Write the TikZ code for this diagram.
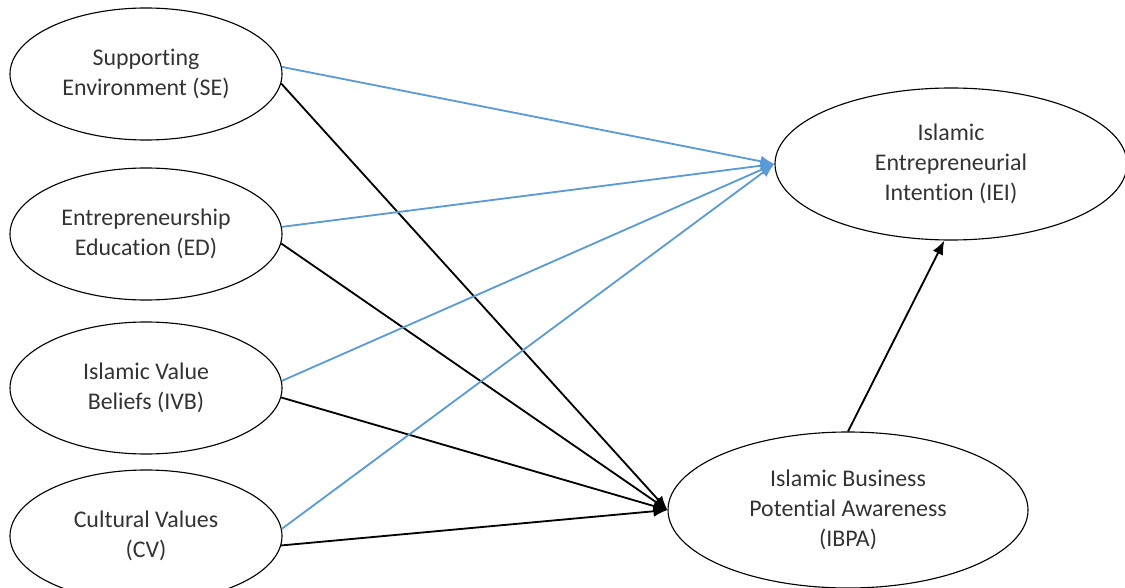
\documentclass[tikz,border=0pt]{standalone}
\usepackage{fontspec}
\setmainfont{Carlito}[Ligatures=NoCommon]
\usetikzlibrary{arrows.meta,shapes.geometric}
\definecolor{linkblue}{RGB}{91,155,213}

\begin{document}
\begin{tikzpicture}[
		construct/.style={draw,ellipse,thick,align=center,text=black!80,
			font=\fontsize{17}{21.5}\selectfont},
		leftvar/.style={construct,minimum width=6.8cm,minimum height=3.3cm},
		toiei/.style={linkblue,line width=1.3pt,-{Latex[length=10pt,width=8pt]}},
		toibpa/.style={black,line width=1.3pt,-{Latex[length=10pt,width=8pt]}}]
		\useasboundingbox (0,0) rectangle (28.125,-14.7);

		\node[leftvar] (se) at (3.65,-1.85) {Supporting\\Environment (SE)};
		\node[leftvar] (ed) at (3.65,-5.85) {Entrepreneurship\\Education (ED)};
		\node[leftvar] (ivb) at (3.65,-9.7) {Islamic Value\\Beliefs (IVB)};
		\node[leftvar] (cv) at (3.65,-13.4) {Cultural Values\\(CV)};
		\node[construct,minimum width=8.8cm,minimum height=3.8cm] (iei) at (23.775,-4.1) {Islamic\\Entrepreneurial\\Intention (IEI)};
		\node[construct,minimum width=9.0cm,minimum height=3.9cm] (ibpa) at (21.2,-12.75) {Islamic Business\\Potential Awareness\\(IBPA)};

		\draw[toibpa] (se.-4) -- (ibpa.west);
		\draw[toibpa] (ed.-4) -- (ibpa.west);
		\draw[toibpa] (ivb.-4) -- (ibpa.west);
		\draw[toibpa] (cv.-4) -- (ibpa.west);

		\draw[toiei] (se.3) -- (iei.west);
		\draw[toiei] (ed.3) -- (iei.west);
		\draw[toiei] (ivb.3) -- (iei.west);
		\draw[toiei] (cv.3) -- (iei.west);

		\draw[toibpa] (ibpa.north) -- (iei.265);
	\end{tikzpicture}
\end{document}
